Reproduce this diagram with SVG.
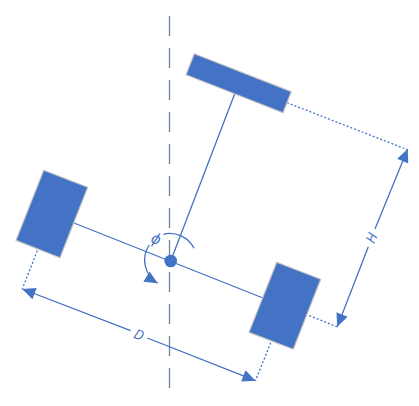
<svg xmlns="http://www.w3.org/2000/svg" width="419" height="406" viewBox="0 0 419 406">
<style>
.body{fill:#4472c4;stroke:#c4c4c4;stroke-width:1.2}
.l{fill:none;stroke:#4472c4;stroke-width:1.3}
.dot{fill:none;stroke:#4472c4;stroke-width:1.3;stroke-dasharray:2 2}
.dash{fill:none;stroke:#6f83ab;stroke-width:1.3;stroke-dasharray:20 12}
.t{font-family:"Open Sans","Liberation Sans",sans-serif;font-size:14px;font-style:italic;fill:#4472c4;text-anchor:middle}
</style>
<defs>
<marker id="a" markerUnits="userSpaceOnUse" markerWidth="14" markerHeight="12" refX="12" refY="5.5" orient="auto-start-reverse" viewBox="0 0 12 11"><path d="M0 0L12 5.5L0 11Z" fill="#4472c4"/></marker>
</defs>
<g id="connectors">
<path class="dash" d="M169.5 16V390"/>
<path class="l" d="M74 223L263 298"/>
<path class="l" d="M170.7 261L235 93"/>
<path class="dot" d="M287 102.7L407 149.5"/>
<path class="dot" d="M309.3 315.7L337 326.7"/>
<path class="dot" d="M270.7 342.7L255.5 380.5"/>
<path class="dot" d="M37.3 250.7L22.3 289"/>
<path class="l" marker-end="url(#a)" d="M375 229L407.7 149"/>
<path class="l" marker-end="url(#a)" d="M368.3 246.7L337.3 326.7"/>
<path class="l" marker-end="url(#a)" d="M130.7 330.7L22.3 289"/>
<path class="l" marker-end="url(#a)" d="M147.3 338L255.5 380.7"/>
<path class="l" d="M163.3 234.3A27 27 0 0 1 194 248.3"/>
<path class="l" marker-end="url(#a)" d="M149.3 245A27 27 0 0 0 157.7 283.3"/>
</g>
<g id="steer-wheel"><polygon class="body" points="194.3,53.7 291.3,91.7 283,112.7 186,74.7"/></g>
<g id="right-wheel"><polygon class="body" points="276.7,262.3 320.7,279.3 293.3,349.3 249,332.3"/></g>
<g id="left-wheel"><polygon class="body" points="43.7,170.3 87.7,187.3 60,257.7 16,240.3"/></g>
<g id="pivot"><circle cx="170.7" cy="261" r="6.3" fill="#4472c4"/></g>
<g id="labels">
<text class="t" transform="translate(371.5 238) rotate(-68)" y="5">H</text>
<text class="t" transform="translate(139 334.5) rotate(22)" y="5">D</text>
<text class="t" style="font-size:16px" transform="translate(156 239) rotate(22)" y="5">ϕ</text>
</g>
</svg>
